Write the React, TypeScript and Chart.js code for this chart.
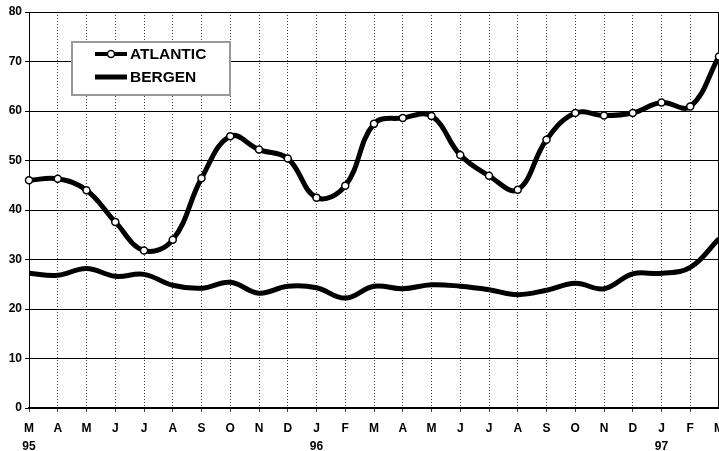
import React, { useEffect, useRef } from "react";
import { Chart, registerables } from "chart.js";
Chart.register(...registerables);

const months = ["M", "A", "M", "J", "J", "A", "S", "O", "N", "D", "J", "F", "M", "A", "M", "J", "J", "A", "S", "O", "N", "D", "J", "F", "M"];
const years = ["95", "", "", "", "", "", "", "", "", "", "96", "", "", "", "", "", "", "", "", "", "", "", "97", "", ""];
const atlantic = [46, 46.3, 44, 37.6, 31.8, 34, 46.4, 54.9, 52.2, 50.4, 42.5, 44.9, 57.4, 58.6, 59.0, 51.1, 46.9, 44.1, 54.2, 59.6, 59.1, 59.6, 61.7, 60.9, 71];
const bergen = [27.2, 26.8, 28.2, 26.6, 27.0, 24.8, 24.2, 25.4, 23.2, 24.6, 24.3, 22.2, 24.6, 24.1, 24.9, 24.6, 23.9, 22.9, 23.8, 25.2, 24.1, 27.1, 27.2, 28.4, 34.2];
const yMin = 0;
const yMax = 80;
const yStep = 10;

const FONT = 'Arial, "Liberation Sans", sans-serif';

export default function App() {
  const ref = useRef<HTMLCanvasElement>(null);
  useEffect(() => {
    document.body.style.margin = "0";
    const framePlugin = {
      id: "frame",
      beforeDatasetsDraw(chart: any) {
        const { ctx, chartArea: a } = chart;
        ctx.save();
        ctx.strokeStyle = "#000";
        ctx.lineWidth = 1;
        ctx.beginPath();
        ctx.moveTo(a.right - 0.5, a.top);
        ctx.lineTo(a.right - 0.5, a.bottom);
        ctx.stroke();
        ctx.restore();
      },
      afterDraw(chart: any) {
        const { ctx } = chart;
        const ds = chart.data.datasets;
        ctx.save();
        ctx.fillStyle = "#fff";
        ctx.fillRect(72, 42, 158, 53);
        ctx.strokeStyle = "#999";
        ctx.lineWidth = 2;
        ctx.strokeRect(72, 42, 158, 53);
        // Atlantic
        ctx.strokeStyle = "#000";
        ctx.lineWidth = 4;
        ctx.beginPath();
        ctx.moveTo(95, 54);
        ctx.lineTo(127, 54);
        ctx.stroke();
        ctx.beginPath();
        ctx.arc(111, 54, 3.5, 0, Math.PI * 2);
        ctx.fillStyle = "#fff";
        ctx.fill();
        ctx.lineWidth = 1.5;
        ctx.stroke();
        // Bergen
        ctx.lineWidth = 5;
        ctx.beginPath();
        ctx.moveTo(95, 77);
        ctx.lineTo(127, 77);
        ctx.stroke();
        ctx.fillStyle = "#000";
        ctx.font = `bold 15.5px ${FONT}`;
        ctx.textBaseline = "middle";
        ctx.textAlign = "left";
        ctx.fillText(ds[0].label, 130, 55);
        ctx.fillText(ds[1].label, 130, 78);
        ctx.restore();
      },
    };
    const chart = new Chart(ref.current as HTMLCanvasElement, {
      type: "line",
      data: {
        labels: months.map((m, i) => [m, years[i]]),
        datasets: [
          {
            label: "ATLANTIC",
            data: atlantic,
            borderColor: "#000",
            borderWidth: 5,
            tension: 0.4,
            pointRadius: 3.5,
            pointBackgroundColor: "#fff",
            pointBorderColor: "#000",
            pointBorderWidth: 1.5,
          },
          {
            label: "BERGEN",
            data: bergen,
            borderColor: "#000",
            borderWidth: 5,
            tension: 0.4,
            pointRadius: 0,
          },
        ],
      },
      options: {
        animation: false,
        responsive: false,
        devicePixelRatio: 1,
        layout: { padding: { top: 12, right: 10, left: 0, bottom: 0 } },
        plugins: { legend: { display: false }, tooltip: { enabled: false } },
        scales: {
          x: {
            grid: { color: "#444", lineWidth: 1, tickLength: 4 },
            border: { color: "#000", width: 2, dash: [1, 2] },
            ticks: {
              autoSkip: false,
              maxRotation: 0,
              padding: 8,
              color: "#000",
              font: { family: FONT, size: 12, weight: "bold", lineHeight: 1.5 },
            },
            afterFit(s: any) {
              s.height = 43;
            },
          },
          y: {
            min: yMin,
            max: yMax,
            ticks: {
              stepSize: yStep,
              padding: 3,
              color: "#000",
              font: { family: FONT, size: 12, weight: "bold" },
            },
            grid: { color: "#000", lineWidth: 1, tickLength: 4 },
            border: { color: "#000", width: 1 },
            afterFit(s: any) {
              s.width = 29;
            },
          },
        },
      },
      plugins: [framePlugin],
    } as any);
    return () => chart.destroy();
  }, []);
  return (
    <div style={{ position: "fixed", left: 0, top: 0, width: 719, height: 451, overflow: "hidden", background: "#fff" }}>
      <canvas ref={ref} width={732} height={451} />
    </div>
  );
}
